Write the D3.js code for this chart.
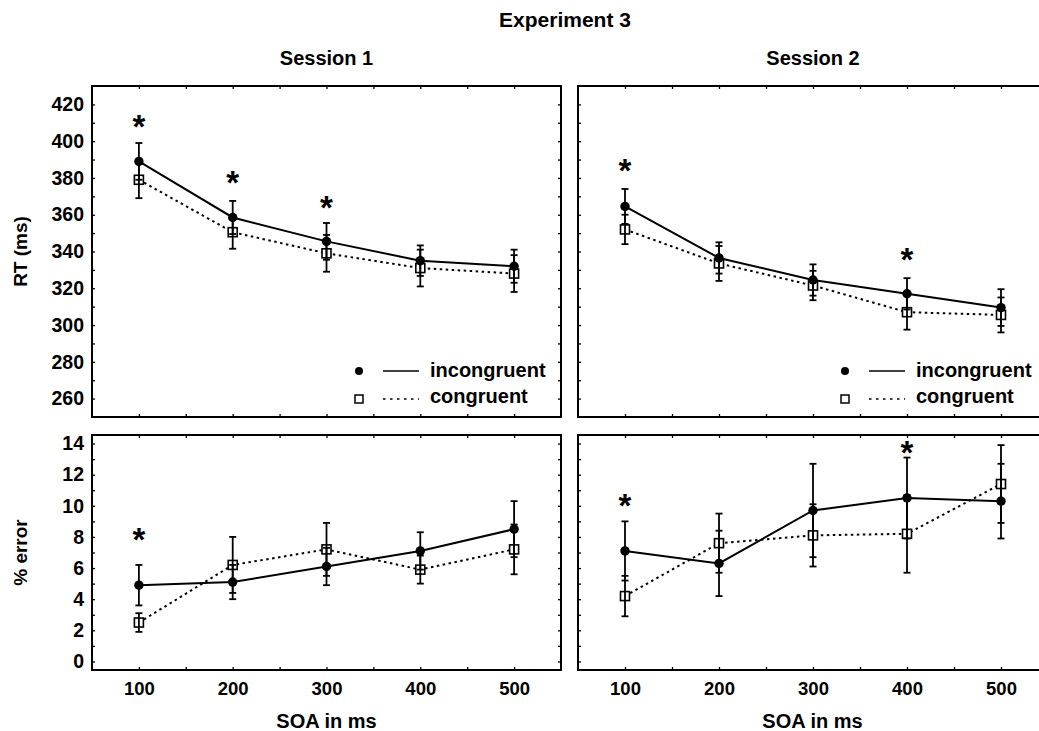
<!DOCTYPE html>
<html>
<head>
<meta charset="utf-8">
<script src="https://cdn.jsdelivr.net/npm/d3@7"></script>
<style>
  html, body { margin: 0; padding: 0; background: #fff; overflow: hidden; }
  svg { display: block; font-family: "Liberation Sans", Arial, Helvetica, sans-serif; font-weight: bold; }
</style>
</head>
<body>
<svg id="chart" width="1039" height="731"></svg>
<script>
// ---------------- data ----------------
const soa = [100, 200, 300, 400, 500];
const sessions = ["Session 1", "Session 2"];
const seriesNames = ["incongruent", "congruent"];

// RT (ms)
const rtS1Incong    = [389, 358.5, 345.5, 335, 332];
const rtS1IncongErr = [10, 9, 10, 8.3, 9];
const rtS1Cong      = [379, 350.5, 339, 331, 328];
const rtS1CongErr   = [10, 9, 10, 10, 10];
const rtS2Incong    = [364.5, 336.5, 324.5, 317, 309.5];
const rtS2IncongErr = [9.5, 8.5, 8.5, 8.5, 10];
const rtS2Cong      = [352, 333.5, 321.5, 307, 305.5];
const rtS2CongErr   = [8, 9.5, 8, 9.5, 9.5];

// % error
const erS1Incong    = [4.9, 5.1, 6.1, 7.1, 8.5];
const erS1IncongErr = [1.3, 1.1, 1.2, 1.2, 1.8];
const erS1Cong      = [2.5, 6.2, 7.2, 5.9, 7.2];
const erS1CongErr   = [0.6, 1.8, 1.7, 0.9, 1.6];
const erS2Incong    = [7.1, 6.3, 9.7, 10.5, 10.3];
const erS2IncongErr = [1.9, 2.1, 3.0, 2.6, 2.4];
const erS2Cong      = [4.2, 7.6, 8.1, 8.2, 11.4];
const erS2CongErr   = [1.3, 1.9, 2.0, 2.5, 2.5];

// significance stars (x = SOA, y = value position)
const rtS1StarSoa = [100, 200, 300];
const rtS1StarY   = [412, 381.5, 368];
const rtS2StarSoa = [100, 400];
const rtS2StarY   = [388, 340];
const erS1StarSoa = [100];
const erS1StarY   = [8.3];
const erS2StarSoa = [100, 400];
const erS2StarY   = [10.5, 13.9];

// tick labels
const xTicks  = [100, 200, 300, 400, 500];
const rtTicks = [260, 280, 300, 320, 340, 360, 380, 400, 420];
const erTicks = [0, 2, 4, 6, 8, 10, 12, 14];

const title = "Experiment 3";
const xLabel = "SOA in ms";
const rtLabel = "RT (ms)";
const erLabel = "% error";

// --------------- layout ---------------
const cols = [{x0: 92, x1: 561}, {x0: 578, x1: 1048}];
const rows = [
  {y0: 86, y1: 417, domain: [250, 430], ticks: rtTicks, minor: d3.range(260, 421, 10), label: rtLabel},
  {y0: 435, y1: 670, domain: [-0.55, 14.55], ticks: erTicks, minor: d3.range(0, 15, 1), label: erLabel}
];

const panelData = [
  [ // RT row
    {inc: rtS1Incong, incE: rtS1IncongErr, con: rtS1Cong, conE: rtS1CongErr, sx: rtS1StarSoa, sy: rtS1StarY},
    {inc: rtS2Incong, incE: rtS2IncongErr, con: rtS2Cong, conE: rtS2CongErr, sx: rtS2StarSoa, sy: rtS2StarY}
  ],
  [ // error row
    {inc: erS1Incong, incE: erS1IncongErr, con: erS1Cong, conE: erS1CongErr, sx: erS1StarSoa, sy: erS1StarY},
    {inc: erS2Incong, incE: erS2IncongErr, con: erS2Cong, conE: erS2CongErr, sx: erS2StarSoa, sy: erS2StarY}
  ]
];

const svg = d3.select("#chart");

// titles
svg.append("text").attr("x", 565).attr("y", 27).attr("text-anchor", "middle")
  .attr("font-size", 21).text(title);
cols.forEach((c, ci) => {
  svg.append("text").attr("x", (c.x0 + c.x1) / 2 - (ci === 1 ? 0 : 0)).attr("y", 65)
    .attr("text-anchor", "middle").attr("font-size", 20).text(sessions[ci]);
});

const DASH = "2.5,3.5";

rows.forEach((r, ri) => {
  const y = d3.scaleLinear().domain(r.domain).range([r.y1, r.y0]);

  // y label (rotated)
  svg.append("text")
    .attr("transform", `translate(27,${(r.y0 + r.y1) / 2}) rotate(-90)`)
    .attr("text-anchor", "middle").attr("font-size", 19).text(r.label);

  // y tick labels on left column
  const yLab = svg.append("g").attr("transform", `translate(${cols[0].x0 - 8},0)`)
    .call(d3.axisLeft(y).tickValues(r.ticks).tickSize(0).tickPadding(0).tickFormat(d3.format("d")));
  yLab.select(".domain").remove();
  yLab.selectAll("text").attr("font-size", 19.5).attr("fill", "#000").attr("font-weight", "bold");
  yLab.attr("font-family", null);

  cols.forEach((c, ci) => {
    const x = d3.scaleLinear().domain([50, 550]).range([c.x0, c.x1]);
    const pd = panelData[ri][ci];
    const g = svg.append("g");

    // inward ticks on all four sides
    const tickGroups = [
      [d3.axisRight(y).tickValues(r.minor).tickSize(3), `translate(${c.x0},0)`],
      [d3.axisLeft(y).tickValues(r.minor).tickSize(3), `translate(${c.x1},0)`],
      [d3.axisBottom(x).tickValues(d3.range(100, 501, 50)).tickSize(3), `translate(0,${r.y0})`],
      [d3.axisTop(x).tickValues(d3.range(100, 501, 50)).tickSize(3), `translate(0,${r.y1})`]
    ];
    tickGroups.forEach(([ax, tr]) => {
      const a = g.append("g").attr("transform", tr).call(ax.tickFormat(""));
      a.select(".domain").remove();
      a.selectAll("line").attr("stroke", "#000").attr("stroke-width", 1.3);
    });

    // frame
    g.append("rect").attr("x", c.x0).attr("y", r.y0)
      .attr("width", c.x1 - c.x0).attr("height", r.y1 - r.y0)
      .attr("fill", "none").attr("stroke", "#000").attr("stroke-width", 2);

    // x tick labels (bottom row only)
    if (ri === 1) {
      const xa = svg.append("g").attr("transform", `translate(0,${r.y1 + 25})`)
        .call(d3.axisBottom(x).tickValues(xTicks).tickSize(0).tickPadding(0).tickFormat(d3.format("d")));
      xa.select(".domain").remove();
      xa.attr("font-family", null);
      xa.selectAll("text").attr("font-size", 18.5).attr("fill", "#000").attr("font-weight", "bold")
        .attr("dy", "0");
      svg.append("text").attr("x", (c.x0 + (ci === 1 ? c.x1 - 1 : c.x1)) / 2).attr("y", 728)
        .attr("text-anchor", "middle").attr("font-size", 20).text(xLabel);
    }

    const line = d3.line().x((d, i) => x(soa[i])).y(d => y(d));

    // lines
    g.append("path").datum(pd.con).attr("d", line)
      .attr("fill", "none").attr("stroke", "#000").attr("stroke-width", 2).attr("stroke-dasharray", DASH);
    g.append("path").datum(pd.inc).attr("d", line)
      .attr("fill", "none").attr("stroke", "#000").attr("stroke-width", 2);

    // squares (congruent)
    g.selectAll(".sq").data(pd.con).enter().append("rect")
      .attr("x", (d, i) => x(soa[i]) - 4.5).attr("y", d => y(d) - 4.5)
      .attr("width", 9).attr("height", 9)
      .attr("fill", "#fff").attr("stroke", "#000").attr("stroke-width", 1.6);

    // error bars
    const drawErr = (vals, errs) => {
      vals.forEach((v, i) => {
        const cx = x(soa[i]);
        const top = y(v + errs[i]), bot = y(v - errs[i]);
        g.append("line").attr("x1", cx).attr("x2", cx).attr("y1", top).attr("y2", bot)
          .attr("stroke", "#000").attr("stroke-width", 1.8);
        [top, bot].forEach(yy => {
          g.append("line").attr("x1", cx - 3.5).attr("x2", cx + 3.5).attr("y1", yy).attr("y2", yy)
            .attr("stroke", "#000").attr("stroke-width", 1.8);
        });
      });
    };
    drawErr(pd.con, pd.conE);
    drawErr(pd.inc, pd.incE);

    // circles (incongruent)
    g.selectAll(".ci").data(pd.inc).enter().append("circle")
      .attr("cx", (d, i) => x(soa[i])).attr("cy", d => y(d)).attr("r", 4.7).attr("fill", "#000");

    // stars
    pd.sx.forEach((s, i) => {
      g.append("text").attr("x", x(s)).attr("y", y(pd.sy[i]) + 19)
        .attr("text-anchor", "middle").attr("font-size", 33).text("*");
    });

    // legend (top row)
    if (ri === 0) {
      const lx = c.x0;
      const rowsY = [371, 399];
      g.append("circle").attr("cx", lx + 267).attr("cy", rowsY[0]).attr("r", 4).attr("fill", "#000");
      g.append("line").attr("x1", lx + 291).attr("x2", lx + 327).attr("y1", rowsY[0]).attr("y2", rowsY[0])
        .attr("stroke", "#000").attr("stroke-width", 1.6);
      g.append("text").attr("x", lx + 338).attr("y", rowsY[0] + 6).attr("font-size", 20).text(seriesNames[0]);
      g.append("rect").attr("x", lx + 263).attr("y", rowsY[1] - 4).attr("width", 8).attr("height", 8)
        .attr("fill", "#fff").attr("stroke", "#000").attr("stroke-width", 1.5);
      g.append("line").attr("x1", lx + 291).attr("x2", lx + 327).attr("y1", rowsY[1]).attr("y2", rowsY[1])
        .attr("stroke", "#000").attr("stroke-width", 1.3).attr("stroke-dasharray", "2.5,4.5");
      g.append("text").attr("x", lx + 338).attr("y", rowsY[1] + 4).attr("font-size", 20).text(seriesNames[1]);
    }
  });
});
</script>
</body>
</html>
